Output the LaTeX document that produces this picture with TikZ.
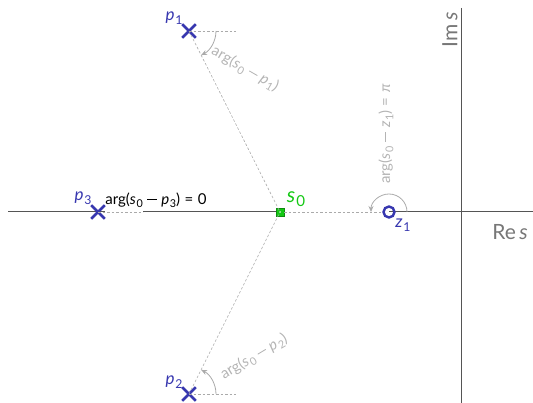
\documentclass[tikz,border=0pt]{standalone}
\usepackage{fontspec}
\setmainfont{Lato}
\usetikzlibrary{arrows.meta,shapes.misc}
\definecolor{pz}{RGB}{55,55,175}
\definecolor{axc}{RGB}{85,85,85}
\definecolor{dsh}{RGB}{170,170,170}
\definecolor{lbl}{RGB}{180,180,180}
\definecolor{sgreen}{RGB}{20,200,20}
\newcommand{\vsub}[2]{\textit{#1}\kern0.05em\raisebox{-0.22em}{\fontsize{0.72em}{0.8em}\selectfont #2}}
\newcommand{\bop}[1]{\hspace{0.3em}#1\hspace{0.3em}}
\newcommand{\mminus}{\hspace{0.3em}\rule[0.28em]{0.62em}{0.055em}\hspace{0.3em}}
\begin{document}
\begin{tikzpicture}[x=1pt,y=-1pt,
  axisline/.style={draw=axc,line width=1pt},
  dashline/.style={draw=dsh,line width=0.6pt,dash pattern=on 2.5pt off 2pt},
  anglearc/.style={draw=dsh,line width=0.8pt,-{Stealth[length=6pt,width=5pt]}},
  polemark/.style={cross out,draw=pz,line width=2.6pt,minimum size=11pt,inner sep=0pt},
  zeromark/.style={circle,draw=pz,line width=2.4pt,minimum size=11pt,inner sep=0pt},
  ptlabel/.style={text=pz,font=\fontsize{17}{19}\selectfont,inner sep=0pt},
  arglabel/.style={text=lbl,font=\fontsize{15}{17}\selectfont,inner sep=0pt},
  axlabel/.style={text=axc!80,font=\fontsize{21}{23}\selectfont,inner sep=0pt}]
\useasboundingbox (0,0) rectangle (533,403);
% coordinates
\coordinate (s0) at (280,212);
\coordinate (ax1) at (8,212);
\coordinate (ax2) at (533,212);
\coordinate (ay1) at (461,8);
\coordinate (ay2) at (461,403);
\coordinate (q1) at (105,212);
\coordinate (q2) at (143,212);
\coordinate (h1) at (236,31);
\coordinate (h2) at (236,394);
% axes
\draw[axisline] (ax1) -- (q1);
\draw[axisline] (q2) -- (s0);
\draw[axisline] (389,212) -- (ax2);
\draw[axisline] (ay1) -- (ay2);
% markers
\node[polemark] (p1) at (189,31) {};
\node[polemark] (p2) at (189,394) {};
\node[polemark] (p3) at (98,212) {};
\node[zeromark] (z1) at (389,212) {};
\node[draw=sgreen!70!black,fill=sgreen,minimum size=8pt,inner sep=0pt,line width=0.5pt] (s0n) at (s0) {};
\fill[white!70!sgreen] (s0n.center) circle[radius=1pt];
% dashed lines
\draw[dashline] (p1.center) -- (s0n.center);
\draw[dashline] (p2.center) -- (s0n.center);
\draw[dashline] (p3.center) -- (q2);
\draw[dashline] (s0n.east) -- (z1.west);
\draw[dashline] (p1.center) -- (h1);
\draw[dashline] (p2.center) -- (h2);
% arcs
\draw[anglearc] (216,31) arc[start angle=0,end angle=63.3,radius=27];
\draw[anglearc] (216,394) arc[start angle=0,end angle=-63.3,radius=27];
\draw[anglearc] (407,212) arc[start angle=0,end angle=-180,radius=18];
% labels
\node[ptlabel] (lp1) at (174,18) {\vsub{p}{1}};
\node[ptlabel] (lp2) at (174,382) {\vsub{p}{2}};
\node[ptlabel] (lp3) at (83,198) {\vsub{p}{3}};
\node[ptlabel] (lz1) at (403,225) {\vsub{z}{1}};
\node[text=sgreen,font=\fontsize{21}{23}\selectfont,inner sep=0pt] (ls0) at (296,199) {\vsub{s}{0}};
\node[arglabel,rotate=-30] (a1) at (245,69) {arg(\vsub{s}{0}\mminus\vsub{p}{1})};
\node[arglabel,rotate=31] (a2) at (254,357) {arg(\vsub{s}{0}\mminus\vsub{p}{2})};
\node[arglabel,rotate=90] (az) at (386,134) {arg(\vsub{s}{0}\mminus\vsub{z}{1})\bop{=}\textit{π}};
\node[arglabel,text=black] (a3) at (156,200) {arg(\vsub{s}{0}\mminus\vsub{p}{3})\bop{=}0};
\node[axlabel] (re) at (510,232) {Re\,\textit{s}};
\node[axlabel,rotate=90] (im) at (450,30) {Im\,\textit{s}};
\end{tikzpicture}
\end{document}
